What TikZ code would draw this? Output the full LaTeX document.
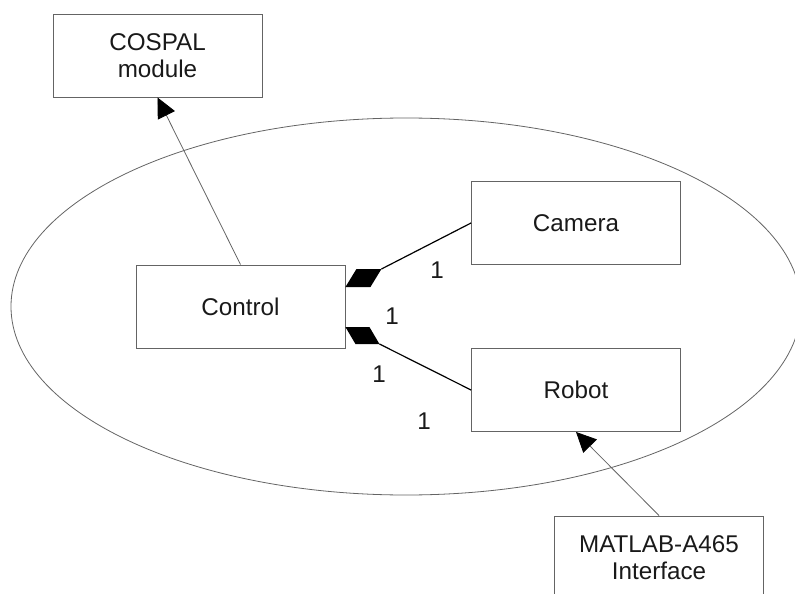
\documentclass[tikz,border=0pt]{standalone}
\usepackage{fontspec}
\setmainfont{Liberation Sans}
\usetikzlibrary{arrows.meta,calc}
\definecolor{edgegray}{RGB}{100,100,100}
\definecolor{inkblack}{RGB}{25,25,25}
\begin{document}
\begin{tikzpicture}[x=1bp,y=-1bp,
  box/.style={draw=edgegray, line width=0.9bp, minimum width=209bp,
    minimum height=83bp, inner sep=0pt, align=center,
    font=\fontsize{24.3}{27.5}\selectfont, text=inkblack},
  mult/.style={inner sep=0pt, font=\fontsize{24.3}{27.5}\selectfont, text=inkblack},
  assoc/.style={draw=black, line width=1.2bp},
  depend/.style={draw=edgegray, line width=0.8bp,
    -{Triangle[length=20bp,width=19bp,color=black]}},
  boundary/.style={draw=edgegray, line width=0.8bp}
]
\useasboundingbox (0,0) rectangle (795,594);
\clip (0,0) rectangle (795,594);

% subsystem boundary
\draw[boundary] (406,306.5) ellipse [x radius=395bp, y radius=188.5bp];

% components
\node[box] (cospal) at (157.5,55.5) {COSPAL\\module};
\node[box] (cam)    at (576,223)    {Camera};
\node[box] (ctrl)   at (240.5,306.5) {Control};
\node[box] (rob)    at (576,390)    {Robot};
\node[box] (matlab) at (659,557.5)  {MATLAB-A465\\Interface};

% composition diamonds on the Control side
\fill[black] ($(ctrl.east)+(0,-19.5)$) -- ++(11,-18) -- ++(25,0) coordinate (camEnd)
  -- ++(-11,18) -- cycle;
\fill[black] ($(ctrl.east)+(0,20.5)$) -- ++(24,0) -- ++(10,17) coordinate (robEnd)
  -- ++(-24,0) -- cycle;

% associations
\draw[assoc] (camEnd) -- (cam.west);
\draw[assoc] (robEnd) -- (rob.west);

% dependencies
\draw[depend] (ctrl.north) -- (cospal.south);
\draw[depend] (matlab.north) -- (rob.south);

% multiplicities
\node[mult] (m1) at (437,270) {1};
\node[mult] (m2) at (392,316) {1};
\node[mult] (m3) at (379,374) {1};
\node[mult] (m4) at (424,421) {1};
\end{tikzpicture}
\end{document}
